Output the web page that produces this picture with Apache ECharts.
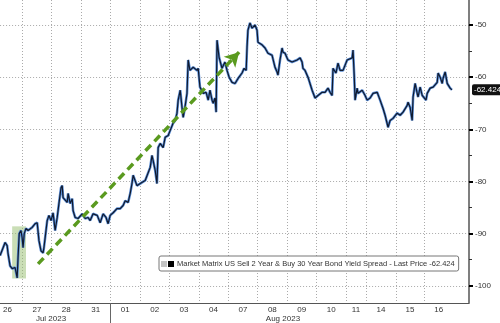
<!DOCTYPE html>
<html><head><meta charset="utf-8">
<script src="https://cdn.jsdelivr.net/npm/echarts@6/dist/echarts.min.js"></script>
<style>html,body{margin:0;padding:0;background:#fff}#c{width:500px;height:323px}</style>
</head><body><div id="c"></div>
<script>
// x = trading-day position (day k starts at dayStarts[k]); y = spread value
const seriesName = 'Market Matrix US Sell 2 Year & Buy 30 Year Bond Yield Spread - Last Price';
const glowName = 'range';
const lastPrice = -62.424;
const dayLabels = ['26','27','28','31','01','02','03','04','07','08','09','10','11','14','15','16'];
const dayStarts = [0,1,2,3,4,5,6,7,8,9,10,11,12,12.68,13.7,14.65];
const dayWidths = [1,1,1,1,1,1,1,1,1,1,1,1,0.68,1.02,0.95,1];
const monthLabels = ['Jul 2023','Aug 2023'];
const monthPos = [1.98, 9.86];
const monthBoundary = [4];
const yMajor = [-50,-60,-70,-80,-90,-100];
const yMinor = [-55,-65,-75,-85,-95];
const spread = [
[0.25,-94.2],[0.42,-91.7],[0.49,-92.3],[0.52,-93.8],[0.59,-96.2],[0.66,-96.7],[0.76,-96.5],[0.83,-98.5],[0.86,-94.6],[0.90,-90.0],
[0.96,-89.4],[1.00,-90.8],[1.03,-92.7],[1.07,-90.0],[1.13,-89.0],[1.20,-89.4],[1.34,-88.8],[1.44,-88.1],[1.51,-87.9],[1.54,-88.1],
[1.57,-91.3],[1.64,-93.3],[1.71,-93.7],[1.74,-92.7],[1.78,-90.8],[1.85,-87.5],[1.91,-86.5],[1.98,-87.5],[2.05,-86.0],[2.12,-89.4],
[2.19,-86.9],[2.25,-84.2],[2.32,-81.2],[2.36,-80.8],[2.39,-83.1],[2.53,-84.0],[2.56,-82.3],[2.63,-84.2],[2.70,-83.3],[2.73,-85.6],
[2.80,-86.9],[2.90,-87.1],[3.04,-86.2],[3.14,-87.1],[3.24,-86.9],[3.31,-87.5],[3.41,-86.2],[3.55,-86.5],[3.65,-87.9],[3.75,-86.2],
[3.85,-86.9],[3.92,-88.1],[3.99,-86.5],[4.09,-86.0],[4.22,-85.2],[4.33,-85.2],[4.43,-84.6],[4.50,-83.7],[4.60,-84.0],[4.67,-82.3],
[4.73,-80.4],[4.77,-78.8],[4.90,-80.8],[5.01,-80.4],[5.18,-79.8],[5.35,-77.3],[5.41,-75.0],[5.45,-76.0],[5.52,-77.9],[5.58,-80.4],
[5.62,-73.5],[5.69,-72.7],[5.79,-73.5],[5.86,-71.5],[5.96,-71.2],[6.03,-70.2],[6.13,-68.8],[6.20,-68.3],[6.26,-66.9],[6.30,-64.4],
[6.37,-62.5],[6.43,-65.8],[6.47,-67.7],[6.53,-65.8],[6.60,-63.1],[6.64,-56.7],[6.70,-58.7],[6.81,-58.1],[6.94,-58.7],[6.98,-58.3],
[7.04,-61.9],[7.15,-63.1],[7.25,-62.9],[7.32,-64.4],[7.38,-62.5],[7.45,-64.4],[7.49,-65.0],[7.55,-64.0],[7.59,-66.7],[7.62,-52.9],
[7.69,-56.2],[7.79,-58.3],[7.89,-57.1],[7.96,-58.7],[8.03,-60.0],[8.13,-61.0],[8.23,-61.2],[8.34,-60.2],[8.47,-59.2],[8.54,-58.3],
[8.61,-58.7],[8.64,-54.2],[8.67,-51.0],[8.74,-49.6],[8.81,-50.6],[8.84,-50.4],[8.91,-50.0],[8.98,-51.0],[9.01,-53.3],[9.15,-53.8],
[9.25,-54.4],[9.35,-55.4],[9.49,-55.8],[9.59,-58.1],[9.66,-59.0],[9.69,-59.6],[9.76,-56.7],[9.83,-54.4],[9.86,-55.2],[9.93,-55.4],
[10.03,-56.7],[10.17,-57.1],[10.34,-56.7],[10.44,-56.3],[10.51,-57.1],[10.54,-58.3],[10.61,-58.7],[10.71,-60.0],[10.85,-62.5],[10.95,-64.0],
[11.05,-63.5],[11.19,-62.9],[11.29,-62.9],[11.39,-62.1],[11.46,-62.9],[11.53,-63.5],[11.56,-58.3],[11.66,-59.2],[11.73,-57.3],[11.80,-58.7],
[11.90,-58.7],[12.04,-56.7],[12.21,-56.3],[12.24,-54.8],[12.28,-59.6],[12.31,-64.4],[12.38,-62.1],[12.41,-63.1],[12.55,-62.5],[12.65,-63.5],
[12.72,-64.4],[12.82,-64.0],[12.92,-63.1],[13.06,-62.9],[13.16,-64.4],[13.26,-66.0],[13.33,-67.3],[13.43,-69.6],[13.50,-68.3],[13.60,-67.9],
[13.74,-66.9],[13.84,-67.3],[13.94,-66.7],[14.08,-65.4],[14.11,-64.8],[14.18,-65.8],[14.25,-68.3],[14.28,-63.8],[14.35,-61.2],[14.42,-63.1],
[14.45,-63.8],[14.52,-61.9],[14.59,-63.5],[14.62,-63.8],[14.72,-64.4],[14.76,-63.1],[14.86,-62.1],[14.96,-61.9],[15.10,-61.0],[15.13,-59.2],
[15.20,-60.0],[15.27,-61.2],[15.30,-60.2],[15.37,-59.0],[15.44,-61.2],[15.47,-61.5],[15.54,-62.1],[15.60,lastPrice]
];
const arrowFrom = [1.54,-95.8];
const arrowTo = [8.37,-55.2];
const highlightX = [0.66,1.13];
const highlightY = [-88.6,-98.6];

const labelCenters = dayStarts.map((s,i)=>s+dayWidths[i]/2);
const xMin = 0.25, xMax = 16.18, yMin = -103.3, yMax = -45.2;
const font = 'Liberation Sans';
const chart = echarts.init(document.getElementById('c'), null, {renderer:'canvas'});
chart.setOption({
  animation:false,
  backgroundColor:'#fff',
  grid:{left:0,right:31,top:0,bottom:20,containLabel:false},
  legend:{
    left:159, top:256, orient:'horizontal',
    data:[
      {name:glowName,icon:'rect',itemStyle:{color:'#c4c4c4'}},
      {name:seriesName,icon:'rect',itemStyle:{color:'#000'}}
    ],
    formatter: n => n === seriesName ? n + ' ' + lastPrice.toFixed(3) : '',
    itemWidth:6,itemHeight:6,itemGap:1,
    padding:[4,4,3,2],
    backgroundColor:'#fff',borderColor:'#777',borderWidth:1,borderRadius:2,
    textStyle:{fontFamily:font,fontSize:7.5,color:'#333',padding:[0,0,0,-2]}
  },
  xAxis:[{
    type:'value',min:xMin,max:xMax,position:'bottom',
    axisLine:{show:true,onZero:false,lineStyle:{color:'#555',width:1}},
    axisTick:{show:false,customValues:dayStarts.slice(1)},
    axisLabel:{show:true,customValues:labelCenters,formatter:(v)=>{const i=labelCenters.findIndex(c=>Math.abs(c-v)<1e-6);return i>=0?dayLabels[i]:'';},
      fontFamily:font,fontSize:8,color:'#333',margin:3},
    splitLine:{show:true,lineStyle:{color:'#aaa',type:[1,2],width:1}}
  },{
    type:'value',min:xMin,max:xMax,position:'bottom',
    axisLine:{show:false},
    axisTick:{show:true,customValues:monthBoundary,length:21,inside:false,lineStyle:{color:'#666',width:1}},
    axisLabel:{show:true,customValues:monthPos,formatter:(v)=>{const i=monthPos.findIndex(c=>Math.abs(c-v)<1e-6);return i>=0?monthLabels[i]:'';},
      fontFamily:font,fontSize:8,color:'#333',margin:12},
    splitLine:{show:false}
  }],
  yAxis:[{
    type:'value',min:yMin,max:yMax,position:'right',
    axisLine:{show:true,lineStyle:{color:'#555',width:1.5}},
    axisTick:{show:true,customValues:yMajor,length:4,inside:false,lineStyle:{color:'#000',width:2}},
    axisLabel:{show:true,customValues:yMajor,formatter:v=>String(v),fontFamily:font,fontSize:8,color:'#333',margin:6},
    splitLine:{show:true,lineStyle:{color:'#aaa',type:[1,2],width:1}}
  },{
    type:'value',min:yMin,max:yMax,position:'right',
    axisLine:{show:false},
    axisTick:{show:true,customValues:yMinor,length:3,inside:false,lineStyle:{color:'#333',width:1}},
    axisLabel:{show:false},
    splitLine:{show:false}
  }],
  series:[{
    name:glowName,type:'line',data:spread,showSymbol:false,symbol:'none',
    itemStyle:{color:'#5b8ed6'},
    lineStyle:{color:'#5b8ed6',width:2.6},z:2,silent:true,
    markArea:{silent:true,itemStyle:{color:'rgba(150,190,110,0.5)'},
      data:[[{xAxis:highlightX[0],yAxis:highlightY[0]},{xAxis:highlightX[1],yAxis:highlightY[1]}]]}
  },{
    name:seriesName,type:'line',data:spread,showSymbol:false,symbol:'none',
    itemStyle:{color:'#111'},
    lineStyle:{color:'#101a2e',width:1.2},z:3,
    markLine:{silent:true,symbol:'none',animation:false,
      data:[
        [{coord:arrowFrom,symbol:'none'},{coord:arrowTo,symbol:'arrow',symbolSize:[12,14]}],
        {yAxis:lastPrice,lineStyle:{color:'rgba(0,0,0,0)',width:0},label:{show:true,position:'end',formatter:lastPrice.toFixed(3),
          backgroundColor:'#111',color:'#fff',padding:[2,1,1,2],borderRadius:2,fontFamily:font,fontSize:8,distance:3}}
      ],
      lineStyle:{color:'#5a9a1f',width:3.5,type:[8,5]},
      label:{show:false}
    }
  }]
});
</script></body></html>
